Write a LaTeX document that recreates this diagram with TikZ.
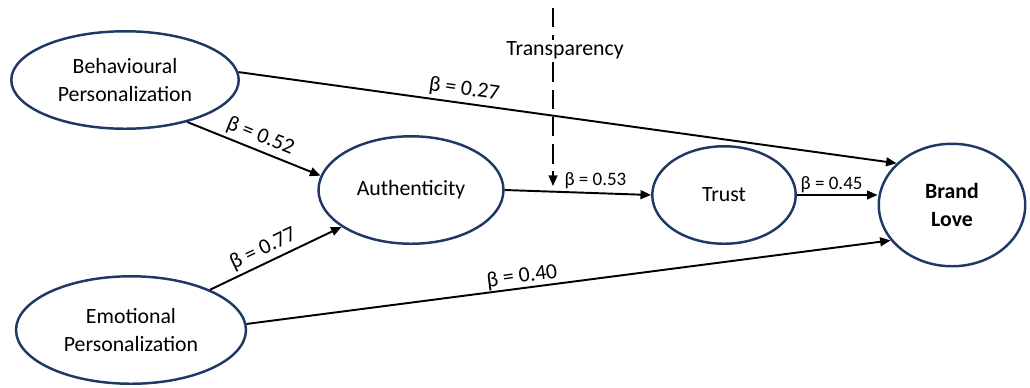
\documentclass[tikz,border=0pt]{standalone}
\usepackage{fontspec}
\setmainfont{Carlito}
\usetikzlibrary{arrows.meta,shapes.geometric}
\definecolor{navy}{RGB}{31,56,100}

\tikzset{
  latent/.style={ellipse,draw=navy,line width=1.4pt,align=center,inner sep=0pt,
    font=\fontsize{12.4}{16}\selectfont},
  effect/.style={line width=1.1pt,-{Triangle[length=6pt,width=5pt]}},
  coef/.style={font=\fontsize{12.4}{14}\selectfont,sloped,above,inner sep=2pt},
  coefsm/.style={font=\fontsize{10.8}{12}\selectfont,above,inner sep=2pt},
}

\begin{document}
\begin{tikzpicture}[x=0.02cm,y=-0.02cm]
    \useasboundingbox (0,0) rectangle (1030,387);

    % constructs
    \node[latent,minimum width=4.55cm,minimum height=1.95cm] (bp) at (125,80) {Behavioural\\Personalization};
    \node[latent,minimum width=4.6cm,minimum height=2.15cm]  (em) at (131,330) {Emotional\\Personalization};
    \node[latent,minimum width=3.7cm,minimum height=2.15cm]  (au) at (411,190) {Authenticity};
    \node[latent,minimum width=2.87cm,minimum height=1.95cm] (tr) at (724,195) {Trust};
    \node[latent,minimum width=2.93cm,minimum height=2.45cm] (bl) at (952,205) {\textbf{Brand}\\\textbf{Love}};

    % paths with coefficients
    \draw[effect] (bp.4)   -- (bl.143) node[coef,pos=0.34] {β = 0.27};
    \draw[effect] (bp.-34) -- (au.171) node[coef,pos=0.51] {β = 0.52};
    \draw[effect] (em.27)  -- (au.208) node[coef,pos=0.45] {β = 0.77};
    \draw[effect] (em.3)   -- (bl.210) node[coef,pos=0.43,inner sep=0.5pt] {β = 0.40};
    \draw[effect] (au.east) -- (tr.west) node[coefsm,pos=0.62] {β = 0.53};
    \draw[effect] (tr.east) -- (tr.east -| bl.west) node[coefsm,pos=0.43,inner sep=1pt] {β = 0.45};

    % moderator
    \coordinate (ttop) at (553,8);
    \coordinate (tend) at (553,186);
    \draw[line width=0.8pt,dash pattern=on 11pt off 4.5pt,-{Triangle[length=6pt,width=5pt]}] (ttop) -- (tend);
    \node[fill=white,inner sep=1pt,font=\fontsize{12.4}{14}\selectfont] (tlab) at (565,50) {Transparency};

\end{tikzpicture}
\end{document}
